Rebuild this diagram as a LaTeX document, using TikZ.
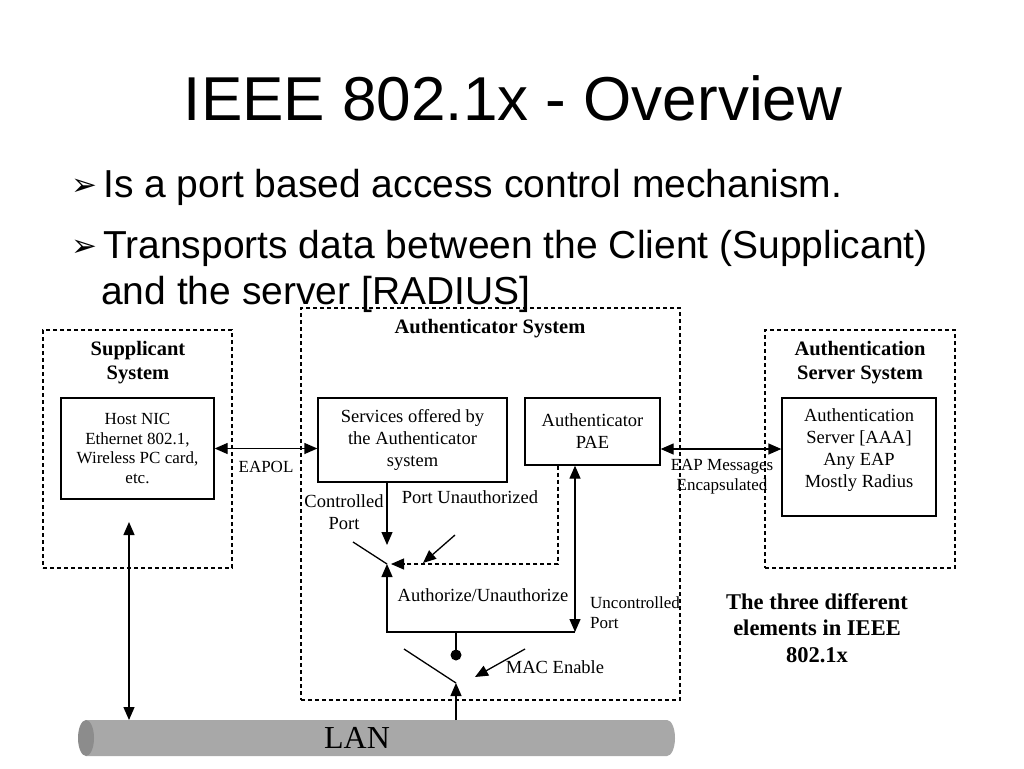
\documentclass[tikz,border=0pt]{standalone}
\usepackage{fontspec}
\setmainfont{Liberation Serif}
\newfontfamily\arialf{Liberation Sans}
\newfontfamily\dejavuf{DejaVu Sans}
\usetikzlibrary{arrows.meta}
\definecolor{lanbody}{RGB}{168,168,168}
\definecolor{lanend}{RGB}{140,140,140}
\tikzset{
  box/.style={draw, line width=1.3pt, inner sep=0pt, align=center},
  grp/.style={draw, line width=1.1pt, dash pattern=on 4pt off 3pt, inner sep=0pt},
  txt/.style={inner sep=0pt, align=center, font=\fontsize{18.5}{22}\selectfont},
  small/.style={inner sep=0pt, align=center, font=\fontsize{17}{19.5}\selectfont},
  head/.style={inner sep=0pt, align=center, font=\bfseries\fontsize{20.5}{24}\selectfont},
  conn/.style={line width=1.3pt},
  tri/.style={-{Triangle[length=13pt,width=11pt]}},
  dtri/.style={{Triangle[length=13pt,width=11pt]}-{Triangle[length=13pt,width=11pt]}},
  dsh/.style={line width=1.1pt, dash pattern=on 4pt off 3pt},
  bul/.style={inner sep=0pt, anchor=base west, font=\dejavuf\fontsize{31}{36}\selectfont},
  btxt/.style={inner sep=0pt, anchor=base west, font=\arialf\fontsize{39}{44}\selectfont}
}
\begin{document}
\begin{tikzpicture}[x=1pt,y=-1pt]
\useasboundingbox (0,0) rectangle (1024,768);
\fill[white] (0,0) rectangle (1024,768);

% title and bullets
\node[inner sep=0pt, anchor=base, font=\arialf\fontsize{62}{70}\selectfont] (title) at (513,120) {IEEE 802.1x - Overview};
\node[bul] (b1) at (71,195) {➢};
\node[btxt] (t1) at (103,197) {Is a port based access control mechanism.};
\node[bul] (b2) at (71,256) {➢};
\node[btxt] (t2) at (103,258) {Transports data between the Client (Supplicant)};
\node[btxt] (t3) at (101,304) {and the server [RADIUS]};

% group boxes
\node[grp, minimum width=189pt, minimum height=238pt] (supsys) at (137.5,449) {};
\node[grp, minimum width=379pt, minimum height=392pt] (authsys) at (490.5,504) {};
\node[grp, minimum width=190pt, minimum height=238pt] (srvsys) at (860,449) {};

% headings
\node[head] (suph) at (138,363) {Supplicant\\System};
\node[head] (authh) at (490,329) {Authenticator System};
\node[head] (srvh) at (860,363) {Authentication\\Server System};

% inner boxes
\node[box, minimum width=153pt, minimum height=101pt, font=\fontsize{17}{19.5}\selectfont] (nic) at (137.5,448.5) {Host NIC\\Ethernet 802.1,\\Wireless PC card,\\etc.};
\node[box, minimum width=189pt, minimum height=84pt, font=\fontsize{18.5}{22}\selectfont] (svc) at (412.5,440) {Services offered by\\the Authenticator\\system};
\node[box, minimum width=135pt, minimum height=67pt, font=\fontsize{18.5}{22}\selectfont] (pae) at (592.5,431.5) {Authenticator\\PAE};
\node[box, minimum width=154pt, minimum height=118pt] (srv) at (859,457) {};
\node[txt] (srvt) at (859,450) {Authentication\\Server [AAA]\\Any EAP\\Mostly Radius};

% LAN
\fill[lanbody] (86,720) -- (667,720) arc[start angle=-90,end angle=90,x radius=8,y radius=18] -- (86,756) -- cycle;
\fill[lanend] (86,738) ellipse [x radius=8, y radius=18];
\node[inner sep=0pt, font=\fontsize{32}{36}\selectfont] (lan) at (357,738) {LAN};

% coordinates
\coordinate (cpTip) at (387,545);
\coordinate (pivot) at (387,564);
\coordinate (lever1) at (353,542);
\coordinate (corner) at (387,632);
\coordinate (ucTip) at (575,632);
\coordinate (dashTip) at (391,564);
\coordinate (dashCorner) at (558,564);
\coordinate (puA) at (455,535);
\coordinate (puB) at (423,563);
\coordinate (junc) at (456,632);
\coordinate (dot) at (456,655);
\coordinate (lever2) at (404,649);
\coordinate (pivot2) at (456,683);
\coordinate (lanTop) at (456,720);
\coordinate (meA) at (525,649);
\coordinate (meB) at (475,677);
\coordinate (supTip) at (129,522);
\coordinate (supLan) at (129,720);

% connectors
\draw[conn, dtri] (nic.east) -- (svc.west |- nic.east);
\draw[conn, dtri] (pae.east |- 0,449) -- (srv.west |- 0,449);
\draw[conn, tri] (svc.south -| cpTip) -- (cpTip);
\draw[conn] (lever1) -- (pivot);
\draw[conn, tri] (ucTip) -- (corner) -- (pivot);
\draw[dsh, tri] (pae.south -| dashCorner) -- (dashCorner) -- (dashTip);
\draw[conn, tri] (puA) -- (puB);
\draw[conn, dtri] (pae.south -| ucTip) -- (ucTip);
\draw[conn] (junc) -- (dot);
\fill (dot) circle (5.5);
\draw[conn] (lever2) -- (pivot2);
\draw[conn, tri] (lanTop) -- (pivot2);
\draw[conn, tri] (meA) -- (meB);
\draw[conn, dtri] (supTip) -- (supLan);

% labels
\node[small] (eapol) at (266,467) {EAPOL};
\node[small] (eapm) at (722,476.5) {EAP Messages\\Encapsulated};
\node[txt] (ctl) at (344,512) {Controlled\\Port};
\node[txt] (pun) at (470,497) {Port Unauthorized};
\node[txt] (authz) at (483,595) {Authorize/Unauthorize};
\node[small, align=left, anchor=west] (unc) at (590,612.5) {Uncontrolled\\Port};
\node[txt] (mac) at (555,667) {MAC Enable};
\node[inner sep=0pt, align=center, font=\bfseries\fontsize{22.5}{26.5}\selectfont] (three) at (817,628) {The three different\\elements in IEEE\\802.1x};
\end{tikzpicture}
\end{document}
